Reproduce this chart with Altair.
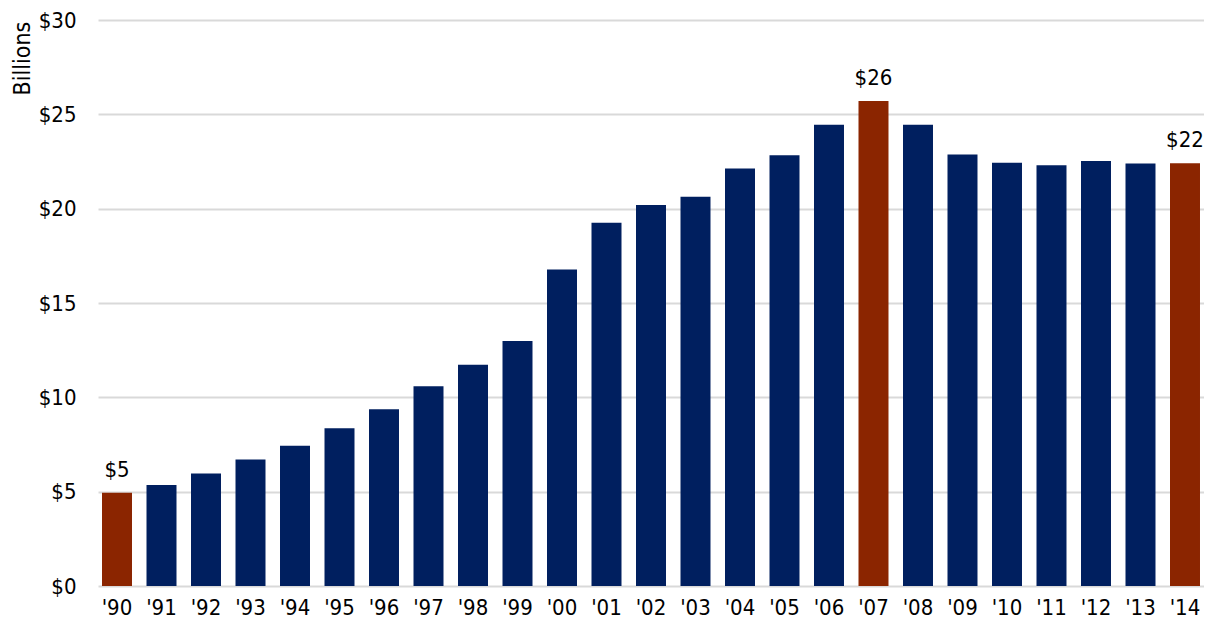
import altair as alt
import pandas as pd

years = ["'90", "'91", "'92", "'93", "'94", "'95", "'96", "'97", "'98", "'99",
         "'00", "'01", "'02", "'03", "'04", "'05", "'06", "'07", "'08", "'09",
         "'10", "'11", "'12", "'13", "'14"]
values = [4.94, 5.35, 5.96, 6.70, 7.44, 8.36, 9.37, 10.59, 11.73, 12.98,
          16.78, 19.26, 20.19, 20.63, 22.13, 22.83, 24.45, 25.71, 24.45, 22.87,
          22.44, 22.30, 22.53, 22.39, 22.41]
highlight = ["'90", "'07", "'14"]
y_ticks = [0, 5, 10, 15, 20, 25, 30]

NAVY = "#001F5F"
RED = "#8B2500"
FONT = "Liberation Sans Narrow, DejaVu Sans Condensed, sans-serif"

df = pd.DataFrame({"year": years, "value": values})
df["kind"] = ["hl" if y in highlight else "base" for y in years]

base = alt.Chart(df)

bars = base.mark_bar().encode(
    x=alt.X("year:N", sort=years,
            scale=alt.Scale(paddingInner=0.326, paddingOuter=0.09),
            axis=alt.Axis(title=None, labelAngle=0, ticks=False, domain=False,
                          labelPadding=11, labelFontSize=22, labelColor="black",
                          labelFont=FONT, grid=False)),
    y=alt.Y("value:Q", scale=alt.Scale(domain=[0, 30], nice=False),
            axis=alt.Axis(values=y_ticks, format="$.0f", title="Billions",
                          ticks=False, domain=False, grid=True,
                          gridColor="#d9d9d9", gridWidth=2,
                          labelPadding=22, labelFontSize=22, labelColor="black",
                          labelFont=FONT,
                          titleFont=FONT, titleFontSize=23, titleFontWeight="normal",
                          titleColor="black", titleAngle=270, titleAlign="center",
                          titleBaseline="middle", titleX=-76, titleY=38)),
    color=alt.Color("kind:N", scale=alt.Scale(domain=["base", "hl"], range=[NAVY, RED]),
                    legend=None),
)

labels = base.transform_filter(alt.datum.kind == "hl").mark_text(
    baseline="alphabetic", dy=-16, fontSize=22, font=FONT, color="black"
).encode(
    x=alt.X("year:N", sort=years),
    y=alt.Y("value:Q"),
    text=alt.Text("value:Q", format="$.0f"),
)

chart = (bars + labels).properties(
    width=1106, height=566,
    autosize="none",
    padding={"left": 90, "top": 12, "right": 0, "bottom": 34},
).configure_view(stroke=None)

chart.save("out.html", embed_options={"renderer": "svg", "actions": False})
